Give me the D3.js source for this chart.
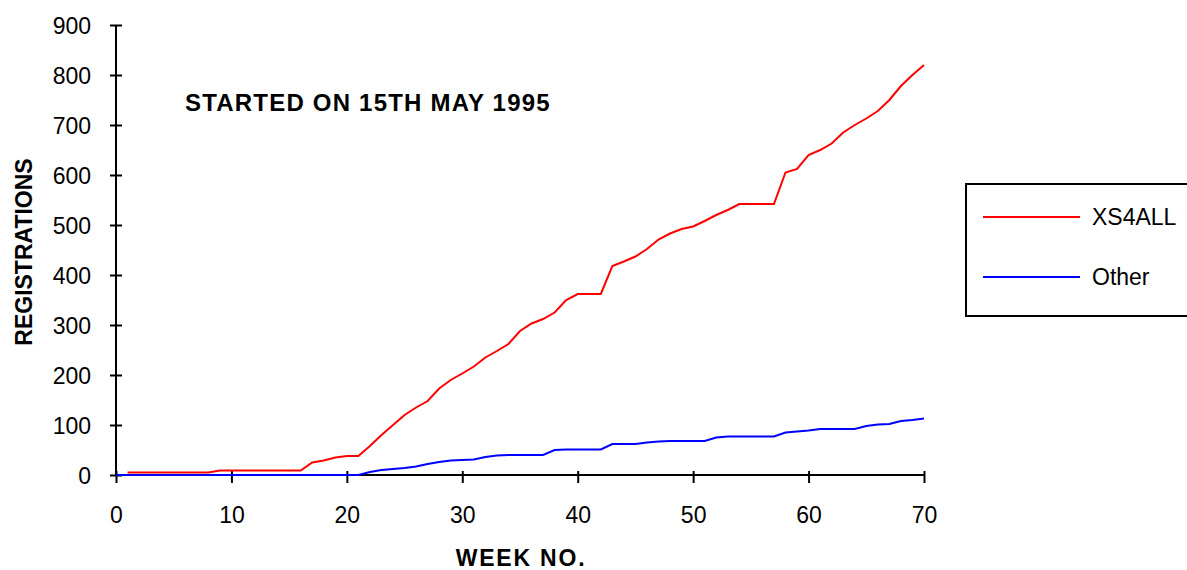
<!DOCTYPE html>
<html>
<head>
<meta charset="utf-8">
<script src="https://cdn.jsdelivr.net/npm/d3@7"></script>
<style>
  body { margin: 0; background: #fff; }
  text { font-family: 'Liberation Sans', Arial, sans-serif; }
</style>
</head>
<body>
<script>
const w = 1187
const h = 570

// week numbers
const weeks = [0, 1, 2, 3, 4, 5, 6, 7, 8, 9, 10, 11, 12, 13, 14, 15, 16, 17, 18, 19, 20,
  21, 22, 23, 24, 25, 26, 27, 28, 29, 30, 31, 32, 33, 34, 35, 36, 37, 38, 39, 40,
  41, 42, 43, 44, 45, 46, 47, 48, 49, 50, 51, 52, 53, 54, 55, 56, 57, 58, 59, 60,
  61, 62, 63, 64, 65, 66, 67, 68, 69, 70]

// cumulative registrations per week (null = no data yet)
const xs4all = [null, 5, 5, 5, 5, 5, 5, 5, 5, 9, 9, 9, 9, 9, 9, 9, 9, 25, 29, 35, 38,
  38, 58, 80, 100, 120, 135, 148, 173, 190, 203, 217, 235, 248, 262, 288, 303, 312, 325, 350, 362,
  362, 362, 418, 427, 437, 452, 471, 483, 492, 497, 508, 520, 530, 542, 542, 542, 542, 605, 612, 640,
  650, 663, 685, 700, 713, 728, 750, 778, 800, 820]

const other = [0, 0, 0, 0, 0, 0, 0, 0, 0, 0, 0, 0, 0, 0, 0, 0, 0, 0, 0, 0, 0,
  0, 6, 10, 12, 14, 17, 22, 26, 29, 30, 31, 36, 39, 40, 40, 40, 40, 50, 51, 51,
  51, 51, 62, 62, 62, 65, 67, 68, 68, 68, 68, 75, 77, 77, 77, 77, 77, 85, 87, 89,
  92, 92, 92, 92, 98, 101, 102, 108, 110, 113]

const seriesNames = ['XS4ALL', 'Other']
const seriesColors = ['#ff0000', '#0000ff']
const xTicks = [0, 10, 20, 30, 40, 50, 60, 70]
const yTicks = [0, 100, 200, 300, 400, 500, 600, 700, 800, 900]

const svg = d3.select('body').append('svg').attr('width', w).attr('height', h)

const x = d3.scaleLinear().domain([0, 70]).range([116, 924])
const y = d3.scaleLinear().domain([0, 900]).range([475, 25])

// x axis
const bottomAxis = d3.axisBottom(x).tickValues(xTicks).tickSize(8).tickPadding(0)
const gx = svg.append('g').attr('transform', 'translate(0,' + y(0) + ')').call(bottomAxis)
gx.select('.domain').attr('stroke', '#000').attr('stroke-width', 2).attr('d', 'M' + x(0) + ',0H' + x(70))
gx.selectAll('.tick line').attr('y1', -4).attr('y2', 8).attr('stroke', '#000').attr('stroke-width', 2)
gx.selectAll('.tick text').attr('y', 32).attr('dy', '0.71em')
  .style('font-size', '23px').attr('fill', '#000')

// y axis
const leftAxis = d3.axisLeft(y).tickValues(yTicks).tickSize(6).tickPadding(0)
const gy = svg.append('g').attr('transform', 'translate(' + x(0) + ',0)').call(leftAxis)
gy.select('.domain').attr('stroke', '#000').attr('stroke-width', 2).attr('d', 'M0,' + y(900) + 'V' + y(0))
gy.selectAll('.tick line').attr('x1', -6).attr('x2', 6).attr('stroke', '#000').attr('stroke-width', 2)
gy.selectAll('.tick text').attr('x', -25).attr('dy', '0.36em')
  .style('font-size', '23px').attr('fill', '#000')

// lines
const series = [xs4all, other]
series.forEach((vals, i) => {
  const line = d3.line()
    .defined((d) => d != null)
    .x((d, j) => x(weeks[j]))
    .y((d) => y(d))
  svg.append('path').datum(vals)
    .attr('d', line)
    .attr('fill', 'none')
    .attr('stroke', seriesColors[i])
    .attr('stroke-width', 2)
})

// titles
svg.append('text').attr('x', 185).attr('y', 111)
  .style('font-size', '24px').style('font-weight', 'bold').style('letter-spacing', '1.2px')
  .text('STARTED ON 15TH MAY 1995')

svg.append('text').attr('x', 521).attr('y', 566).attr('text-anchor', 'middle')
  .style('font-size', '23px').style('font-weight', 'bold').style('letter-spacing', '1.8px')
  .text('WEEK NO.')

svg.append('text').attr('transform', 'translate(32,252) rotate(-90)').attr('text-anchor', 'middle')
  .style('font-size', '23px').style('font-weight', 'bold')
  .text('REGISTRATIONS')

// legend
const legend = svg.append('g')
legend.append('rect').attr('x', 966).attr('y', 184).attr('width', 240).attr('height', 132)
  .attr('fill', 'none').attr('stroke', '#000').attr('stroke-width', 2)
seriesNames.forEach((name, i) => {
  const ly = 217 + i * 60
  legend.append('line').attr('x1', 983).attr('x2', 1080).attr('y1', ly).attr('y2', ly)
    .attr('stroke', seriesColors[i]).attr('stroke-width', 2)
  legend.append('text').attr('x', 1092).attr('y', ly).attr('dy', '0.36em')
    .style('font-size', '23px').text(name)
})
</script>
</body>
</html>
